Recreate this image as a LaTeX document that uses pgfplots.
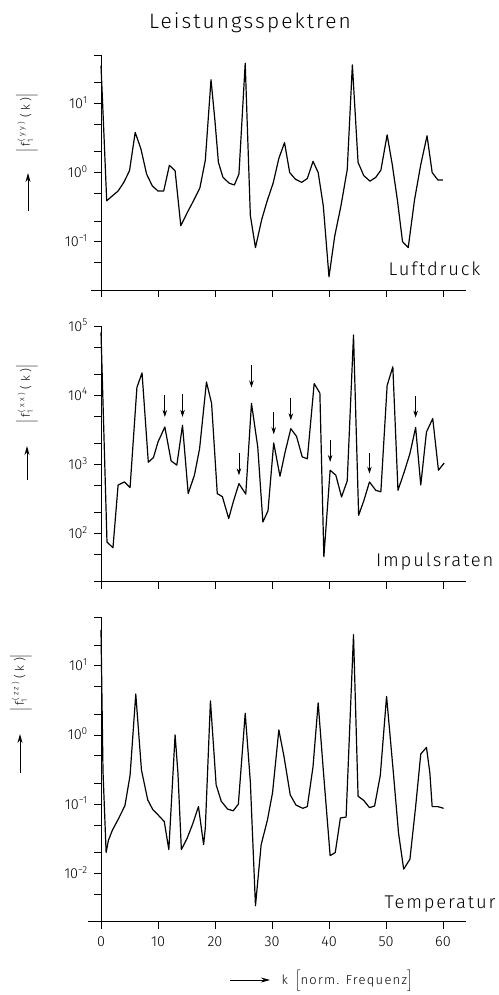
\documentclass[border=0pt]{standalone}
\usepackage{amsmath}
\usepackage{fontspec}
\setmainfont{Fira Sans Light}
\newfontfamily\spaced[LetterSpace=10]{Fira Sans Light}
\newfontfamily\wide[LetterSpace=28]{Fira Sans Light}
\usepackage{pgfplots}
\pgfplotsset{compat=1.18}
\usetikzlibrary{arrows.meta}
\pgfplotsset{
  panelstyle/.style={
    scale only axis, width=364.8bp, xmin=0, xmax=64,
    axis lines*=left, tick align=outside,
    major tick length=7bp, minor tick length=7bp,
    xtick={0,10,20,30,40,50,60},
    tick style={black, line width=0.6bp},
    axis line style={black, line width=0.8bp},
    yticklabels={,,,,,,},
    clip=false,
  },
}
\tikzset{dline/.style={black, line width=1.2bp, mark=none, line join=round},
  darr/.style={black, line width=0.7bp, -{Stealth[length=7bp,width=4.5bp]}},
  larr/.style={black, line width=0.9bp, -{Stealth[length=9bp,width=5bp]}},
  ytl/.style={anchor=base east, inner sep=0pt, font=\fontsize{14.5}{14.5}\selectfont, xshift=-13bp, yshift=-5bp},
  ylab/.style={rotate=90, inner sep=1pt, font=\wide\fontsize{12}{12}\selectfont}}
\newcommand{\flab}[1]{$\Bigl|\,\text{f}_{\text{1}}^{\,\text{(#1)}}\;\text{(k)}\Bigr|$}
\begin{document}
\begin{tikzpicture}
\path[use as bounding box] (0,0) rectangle (499bp,-995bp);

% Title
\node[anchor=base, font=\spaced\fontsize{21}{21}\selectfont] at (250bp,-28bp) {Leistungsspektren};

% ---------------- Top panel: Luftdruck
\begin{axis}[ymode=log, panelstyle, at={(101bp,-290bp)}, anchor=south west, height=235bp,
  ymin=0.02, ymax=50, ytick={0.1,1,10},
  minor ytick={0.02,0.05,0.2,0.5,2,5,20,50},
  xticklabels={,,,,,,}]
\addplot[dline] coordinates {
(0,35) (0.4,6) (1,0.39) (2,0.46) (3,0.54) (4,0.72) (5,1.06) (6,3.8) (7,2.2) (8,0.95)
(9,0.64) (10,0.54) (11,0.54) (12,1.27) (13,1.06) (14,0.17) (15.2,0.27) (16.3,0.4)
(17.35,0.6) (18.3,1.5) (19.3,22) (20,5.5) (20.6,1.4) (21.4,0.85) (22.5,0.7) (23.4,0.66)
(24.2,0.95) (25.3,38) (26.2,0.24) (27.1,0.082) (28.2,0.21) (29.2,0.4) (30.2,0.7)
(31.2,1.6) (32.2,2.7) (33.1,1.0) (34.1,0.8) (35.2,0.72) (36.2,0.82) (37.2,1.45)
(38.1,1.0) (39,0.33) (40,0.031) (41,0.12) (42.1,0.33) (43.2,1.1) (44.1,36) (45.1,1.4)
(46.1,0.9) (47.2,0.75) (48.2,0.85) (49.1,1.08) (50.2,3.5) (51.1,1.3) (52,0.4)
(52.9,0.1) (53.9,0.082) (55,0.4) (56.1,1.3) (57.2,3.4) (58.1,1.0) (59.1,0.78) (60,0.78)
};
\node[ytl] at (axis cs:0,10) {10\textsuperscript{1}};
\node[ytl] at (axis cs:0,1) {10\textsuperscript{0}};
\node[ytl] at (axis cs:0,0.1) {10\textsuperscript{−1}};
\end{axis}
\draw[black, line width=0.8bp] (91bp,-290bp) -- (101bp,-290bp);
\node[anchor=base west, font=\spaced\fontsize{18.5}{18.5}\selectfont] at (385bp,-275bp) {Luftdruck};
\node[ylab] at (27bp,-123bp) {\flab{yy}};
\draw[larr] (28bp,-211bp) -- (28bp,-173bp);

% ---------------- Middle panel: Impulsraten
\begin{axis}[ymode=log, panelstyle, at={(101bp,-581.7bp)}, anchor=south west, height=255.7bp,
  ymin=20, ymax=100000, ytick={100,1000,10000,100000},
  minor ytick={20,50,200,500,2000,5000,20000,50000},
  xticklabels={,,,,,,}]
\addplot[dline] coordinates {
(0,81000) (1.05,75) (2.1,62) (3,500) (4.1,555) (5.1,460) (6.3,12900) (7.2,21000)
(8.3,1070) (9.2,1250) (10,2100) (11.2,3460) (12.3,1120) (13.3,970) (14.3,3660)
(15.3,376) (16.4,700) (17.3,1690) (18.5,15500) (19.4,7600) (20.4,376) (21.3,340)
(22.4,164) (23.2,285) (24.2,525) (25.4,370) (26.4,7600) (27.5,1780) (28.4,146)
(29.3,213) (30.3,2030) (31.4,670) (32.3,1500) (33.3,3270) (34.3,2540) (35.3,1280)
(36.2,1200) (37.4,14700) (38.4,10700) (39.1,46) (40.2,820) (41.2,695) (42.2,337)
(43.2,575) (44.3,74000) (45.2,183) (46.1,295) (47.1,555) (48.2,420) (49.1,400)
(50.2,13800) (51.2,25700) (52.1,420) (53.2,775) (54.2,1430) (55.2,3400) (56.1,500)
(57.1,2930) (58.2,4580) (59.2,820) (60.2,1040)
};
\draw[darr] (axis cs:11.2,9900) -- (axis cs:11.2,4830);
\draw[darr] (axis cs:14.3,10300) -- (axis cs:14.3,4830);
\draw[darr] (axis cs:24.2,1460) -- (axis cs:24.2,693);
\draw[darr] (axis cs:26.4,27000) -- (axis cs:26.4,12900);
\draw[darr] (axis cs:30.3,5710) -- (axis cs:30.3,2720);
\draw[darr] (axis cs:33.3,9100) -- (axis cs:33.3,4330);
\draw[darr] (axis cs:40.2,2220) -- (axis cs:40.2,1080);
\draw[darr] (axis cs:47.1,1475) -- (axis cs:47.1,733);
\draw[darr] (axis cs:55.2,9620) -- (axis cs:55.2,4730);
\node[ytl] at (axis cs:0,100000) {10\textsuperscript{5}};
\node[ytl] at (axis cs:0,10000) {10\textsuperscript{4}};
\node[ytl] at (axis cs:0,1000) {10\textsuperscript{3}};
\node[ytl] at (axis cs:0,100) {10\textsuperscript{2}};
\end{axis}
\draw[black, line width=0.8bp] (97bp,-581.7bp) -- (101bp,-581.7bp);
\node[anchor=base east, font=\spaced\fontsize{18.5}{18.5}\selectfont] at (497bp,-566.5bp) {Impulsraten};
\node[ylab] at (27bp,-394bp) {\flab{xx}};
\draw[larr] (27bp,-480bp) -- (27bp,-446bp);

% ---------------- Bottom panel: Temperatur
\begin{axis}[ymode=log, panelstyle, at={(101bp,-921.7bp)}, anchor=south west, height=304.4bp,
  ymin=0.002, ymax=50, ytick={0.01,0.1,1,10},
  minor ytick={0.002,0.005,0.02,0.05,0.2,0.5,2,5,20,50},
  xticklabels={0,10,20,30,40,50,60},
  xticklabel style={font=\fontsize{14.5}{14.5}\selectfont, yshift=-5bp}]
\addplot[dline] coordinates {
(0,33) (0.35,0.3) (0.9,0.02) (1.3,0.03) (2,0.042) (3,0.06) (4.2,0.095) (5.1,0.26)
(6.1,3.9) (7.1,0.31) (8.2,0.115) (9.1,0.083) (10,0.07) (11.1,0.056) (11.9,0.022)
(13,1.0) (13.5,0.28) (14.1,0.022) (15.1,0.032) (16.1,0.052) (17.1,0.092) (18,0.026)
(18.3,0.045) (19.2,3.1) (20.2,0.19) (21.1,0.11) (22.2,0.085) (23.2,0.08) (24.1,0.1)
(25.3,2.05) (26.2,0.21) (27.1,0.0034) (28.1,0.026) (29.2,0.059) (30.1,0.147)
(31.2,1.18) (32.1,0.49) (33.2,0.136) (34.2,0.097) (35.4,0.087) (36.2,0.092)
(37.2,0.35) (38.1,2.9) (39,0.31) (40.2,0.018) (41.1,0.020) (42,0.063) (43,0.065)
(44.3,28) (45.1,0.13) (46.1,0.113) (47.1,0.089) (48,0.094) (49,0.26) (50.1,3.6)
(51.3,0.28) (52.2,0.038) (53.1,0.0115) (54.2,0.016) (55.2,0.092) (56.1,0.53)
(57.1,0.66) (57.7,0.28) (58.1,0.092) (59.1,0.092) (60.1,0.087)
};
\node[ytl] at (axis cs:0,10) {10\textsuperscript{1}};
\node[ytl] at (axis cs:0,1) {10\textsuperscript{0}};
\node[ytl] at (axis cs:0,0.1) {10\textsuperscript{−1}};
\node[ytl] at (axis cs:0,0.01) {10\textsuperscript{−2}};
\end{axis}
\draw[black, line width=0.8bp] (88bp,-921.7bp) -- (101bp,-921.7bp);
\node[anchor=base east, font=\spaced\fontsize{18.5}{18.5}\selectfont] at (499bp,-908.3bp) {Temperatur};
\node[ylab] at (21bp,-683bp) {\flab{zz}};
\draw[larr] (20bp,-773bp) -- (20bp,-734bp);

% x label
\draw[larr] (230bp,-980bp) -- (270bp,-980bp);
\node[anchor=west, font=\spaced\fontsize{13}{13}\selectfont] at (278bp,-981bp)
  {k\, $\Bigl[$\text{norm. Frequenz}$\Bigr]$};
\end{tikzpicture}
\end{document}
